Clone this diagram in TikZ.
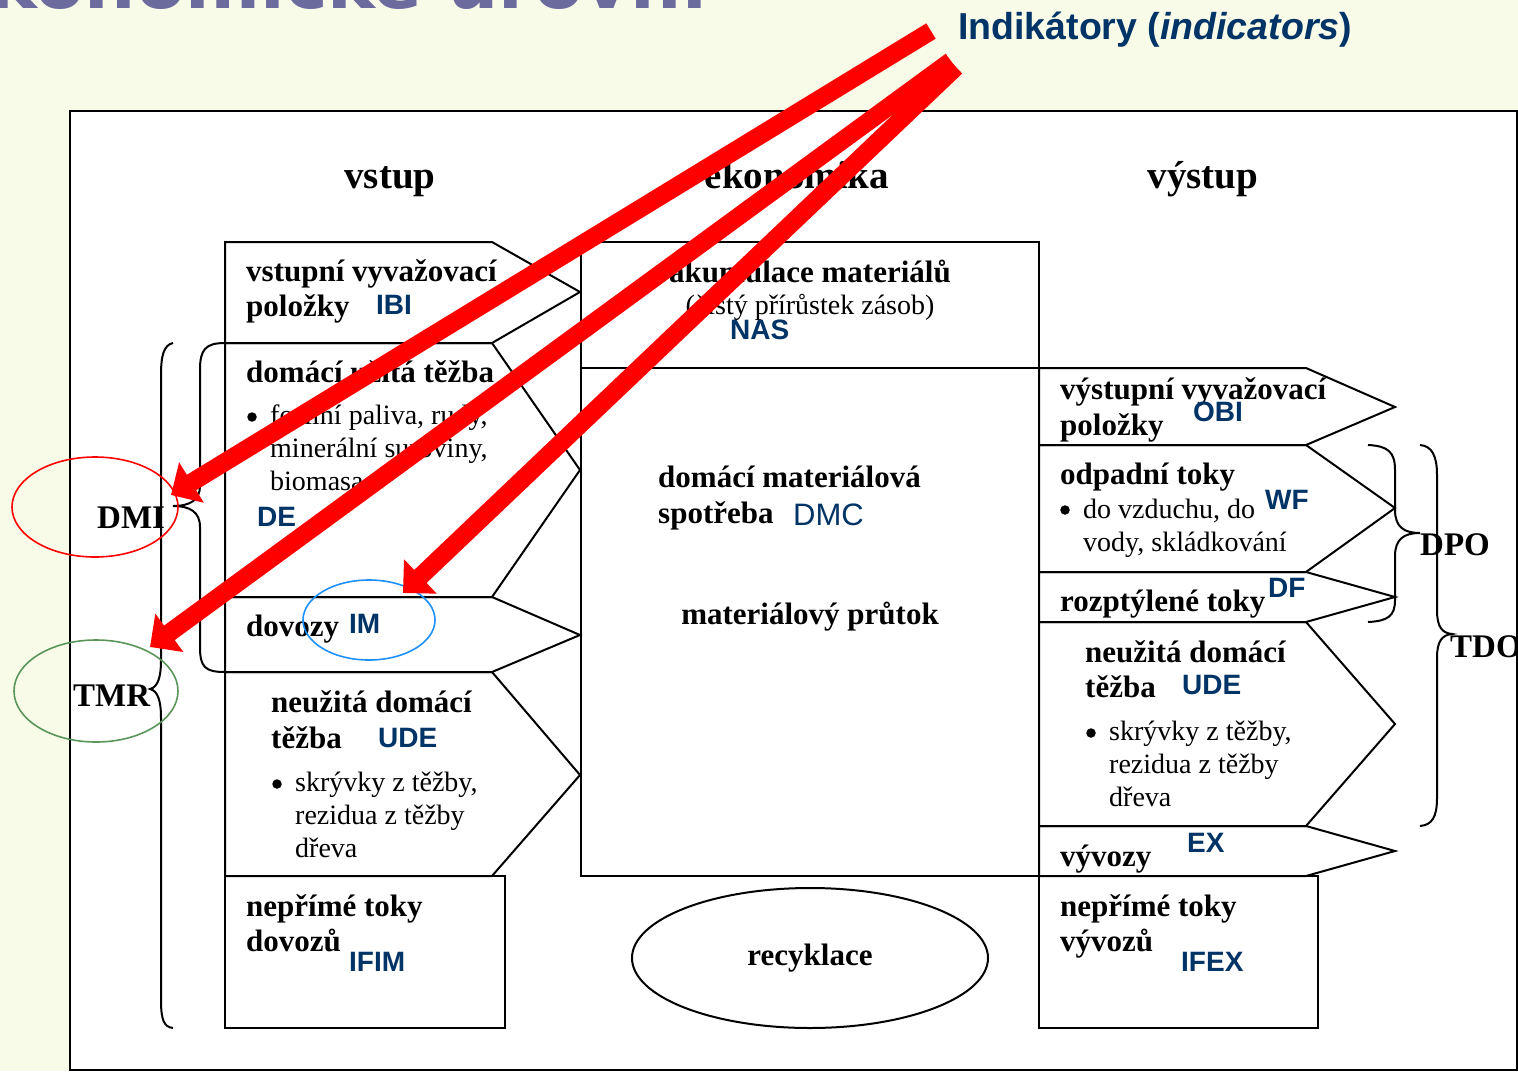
\documentclass[tikz,border=0pt]{standalone}
\usepackage{fontspec}
\setmainfont{Liberation Serif}
\newfontfamily\arialf{Liberation Sans}
\newfontfamily\titlef{DejaVu Sans}
\usetikzlibrary{arrows.meta,shapes.geometric}
\definecolor{bgcream}{RGB}{249,251,233}
\definecolor{codeblue}{RGB}{0,51,102}
\definecolor{titlepurple}{RGB}{107,107,158}
\definecolor{ellgreen}{RGB}{90,150,90}
\definecolor{ellblue}{RGB}{30,144,255}
\tikzset{
  hd/.style={anchor=base, inner sep=0pt, font=\fontsize{39}{44}\selectfont\bfseries},
  lb/.style={anchor=base west, inner sep=0pt, font=\fontsize{31}{35}\selectfont\bfseries},
  lbc/.style={lb, anchor=base},
  tx/.style={anchor=base west, inner sep=0pt, font=\fontsize{28}{33}\selectfont},
  txc/.style={tx, anchor=base},
  dot/.style={circle, fill=black, inner sep=0pt, minimum size=9.5pt},
  cd/.style={anchor=base west, inner sep=0pt, text=codeblue, font=\arialf\fontsize{28}{32}\selectfont\bfseries},
  cdreg/.style={anchor=base west, inner sep=0pt, text=codeblue, font=\arialf\fontsize{31}{35}\selectfont},
  big/.style={anchor=base west, inner sep=0pt, font=\fontsize{33}{38}\selectfont\bfseries},
  flow/.style={draw=black, line width=2pt, line join=miter},
  brace/.style={draw=black, line width=2pt},
  ring/.style={ellipse, line width=1.6pt, inner sep=0pt},
  redarrow/.style={draw=red, line width=18pt, -{Triangle[length=24pt,width=46pt]}},
}
\begin{document}
\begin{tikzpicture}[x=1pt,y=-1pt]
\useasboundingbox (0,0) rectangle (1518,1071);
% background and frame
\fill[bgcream] (0,0) rectangle (1518,1071);
\node (title) [anchor=base east, inner sep=0pt, text=titlepurple,
  font=\titlef\fontsize{72}{80}\selectfont\bfseries] at (707,8) {ekonomické úrovni};
\node (ind) [anchor=base west, inner sep=0pt, text=codeblue,
  font=\arialf\fontsize{37.5}{42}\selectfont\bfseries] at (958,39) {Indikátory (\textit{indicators})};
\filldraw[fill=white, draw=black, line width=2pt] (70,111) rectangle (1517,1070);

% column headings
\node (hvstup) [hd] at (390,188) {vstup};
\node (hekon) [hd] at (797,188) {ekonomika};
\node (hvystup) [hd] at (1203,188) {výstup};

% input column
\draw[flow] (225,242) -- (492,242) -- (580,292) -- (492,343) -- (225,343) -- cycle;
\draw[flow] (225,343) -- (492,343) -- (580,470) -- (492,597) -- (225,597) -- cycle;
\draw[flow] (225,597) -- (492,597) -- (580,635) -- (492,672) -- (225,672) -- cycle;
\draw[flow] (225,672) -- (492,672) -- (580,775) -- (492,876) -- (225,876) -- cycle;
\draw[flow] (225,876) rectangle (505,1028);

% economy column
\draw[flow] (581,242) rectangle (1039,368);
\draw[flow] (581,368) rectangle (1039,876);

% output column
\draw[flow] (1039,368) -- (1306,368) -- (1395,407) -- (1306,445) -- (1039,445) -- cycle;
\draw[flow] (1039,445) -- (1306,445) -- (1395,508) -- (1306,572) -- (1039,572) -- cycle;
\draw[flow] (1039,572) -- (1306,572) -- (1395,597) -- (1306,622) -- (1039,622) -- cycle;
\draw[flow] (1039,622) -- (1306,622) -- (1395,724) -- (1306,826) -- (1039,826) -- cycle;
\draw[flow] (1039,826) -- (1306,826) -- (1395,851) -- (1306,876) -- (1039,876) -- cycle;
\draw[flow] (1039,876) rectangle (1318,1028);

% input texts
\node (ibi1) [lb] at (246,281) {vstupní vyvažovací};
\node (ibi2) [lb] at (246,316) {položky};
\node (ibi) [cd] at (376,314) {IBI};
\node (de1) [lb] at (246,382) {domácí užitá těžba};
\node (deb) [dot] at (252,417) {};
\node (de2) [tx] at (270,424) {fosilní paliva, rudy,};
\node (de3) [tx] at (270,457) {minerální suroviny,};
\node (de4) [tx] at (270,490) {biomasa};
\node (de) [cd] at (257,526) {DE};
\node (im1) [lb] at (246,636) {dovozy};
\node (im) [cd] at (349,633) {IM};
\node (ude1) [lb] at (271,712) {neužitá domácí};
\node (ude2) [lb] at (271,748) {těžba};
\node (ude) [cd] at (378,747) {UDE};
\node (udeb) [dot] at (277,784) {};
\node (ude3) [tx] at (295,791) {skrývky z těžby,};
\node (ude4) [tx] at (295,824) {rezidua z těžby};
\node (ude5) [tx] at (295,857) {dřeva};
\node (ifim1) [lb] at (246,916) {nepřímé toky};
\node (ifim2) [lb] at (246,951) {dovozů};
\node (ifim) [cd] at (349,971) {IFIM};

% economy texts
\node (nas1) [lbc] at (810,282) {akumulace materiálů};
\node (nas2) [txc] at (810,314) {(čistý přírůstek zásob)};
\node (nas) [cd] at (730,339) {NAS};
\node (dmc1) [lb] at (658,487) {domácí materiálová};
\node (dmc2) [lb] at (658,523) {spotřeba};
\node (dmc) [cdreg] at (793,525) {DMC};
\node (thr) [lbc] at (810,624) {materiálový průtok};
\node (recy) [ellipse, draw=black, line width=2pt, minimum width=356pt, minimum height=140pt,
  font=\fontsize{31}{35}\selectfont\bfseries] at (810,958) {recyklace};

% output texts
\node (obi1) [lb] at (1060,399) {výstupní vyvažovací};
\node (obi2) [lb] at (1060,435) {položky};
\node (obi) [cd] at (1193,421) {OBI};
\node (wf1) [lb] at (1060,484) {odpadní toky};
\node (wfb) [dot] at (1065,510) {};
\node (wf2) [tx] at (1083,518) {do vzduchu, do};
\node (wf3) [tx] at (1083,551) {vody, skládkování};
\node (wf) [cd] at (1265,509) {WF};
\node (df1) [lb] at (1060,611) {rozptýlené toky};
\node (df) [cd] at (1268,597) {DF};
\node (oude1) [lb] at (1085,662) {neužitá domácí};
\node (oude2) [lb] at (1085,697) {těžba};
\node (oude) [cd] at (1182,694) {UDE};
\node (oudeb) [dot] at (1091,733) {};
\node (oude3) [tx] at (1109,740) {skrývky z těžby,};
\node (oude4) [tx] at (1109,773) {rezidua z těžby};
\node (oude5) [tx] at (1109,806) {dřeva};
\node (ex1) [lb] at (1060,866) {vývozy};
\node (ex) [cd] at (1187,852) {EX};
\node (ifex1) [lb] at (1060,916) {nepřímé toky};
\node (ifex2) [lb] at (1060,951) {vývozů};
\node (ifex) [cd] at (1181,971) {IFEX};

% braces for the aggregate indicators
\draw[brace] (225,343) .. controls (205,343) and (200,350) .. (200,370) -- (200,486)
  .. controls (200,500) and (190,506) .. (173,506)
  .. controls (190,506) and (200,512) .. (200,527) -- (200,647)
  .. controls (200,667) and (205,672) .. (225,672);
\draw[brace] (173,343) .. controls (164,345) and (161,355) .. (161,375) -- (161,660)
  .. controls (161,677) and (158,687) .. (150,689)
  .. controls (158,691) and (161,701) .. (161,718) -- (161,1000)
  .. controls (161,1020) and (164,1027) .. (173,1028);
\draw[brace] (1368,445) .. controls (1388,446) and (1395,452) .. (1395,470) -- (1395,510)
  .. controls (1395,527) and (1404,533) .. (1420,533)
  .. controls (1404,533) and (1395,539) .. (1395,556) -- (1395,600)
  .. controls (1395,616) and (1388,621) .. (1368,622);
\draw[brace] (1420,445) .. controls (1432,446) and (1437,456) .. (1437,475) -- (1437,610)
  .. controls (1437,627) and (1442,633) .. (1452,634)
  .. controls (1442,635) and (1437,641) .. (1437,658) -- (1437,798)
  .. controls (1437,817) and (1432,825) .. (1420,826);
\node (dmi) [big] at (97,528) {DMI};
\node (tmr) [big] at (73,706) {TMR};
\node (dpo) [big] at (1420,555) {DPO};
\node (tdo) [big] at (1450,657) {TDO};

% highlighted indicators
\node (dmiring) [ring, draw=red, minimum width=166pt, minimum height=100pt] at (95,507) {};
\node (tmrring) [ring, draw=ellgreen, minimum width=164pt, minimum height=102pt] at (96,691) {};
\node (imring) [ring, draw=ellblue, minimum width=132pt, minimum height=80pt] at (369,620) {};

% pointers from the indicator heading
\coordinate (a1s) at (931,31);
\coordinate (a2s) at (951,61);
\coordinate (a3s) at (956,67);
\coordinate (a1e) at (171,495);
\coordinate (a2e) at (150,647);
\coordinate (a3e) at (403,593);
\draw[redarrow] (a1s) -- (a1e);
\draw[redarrow] (a2s) -- (a2e);
\draw[redarrow] (a3s) -- (a3e);
\end{tikzpicture}
\end{document}
